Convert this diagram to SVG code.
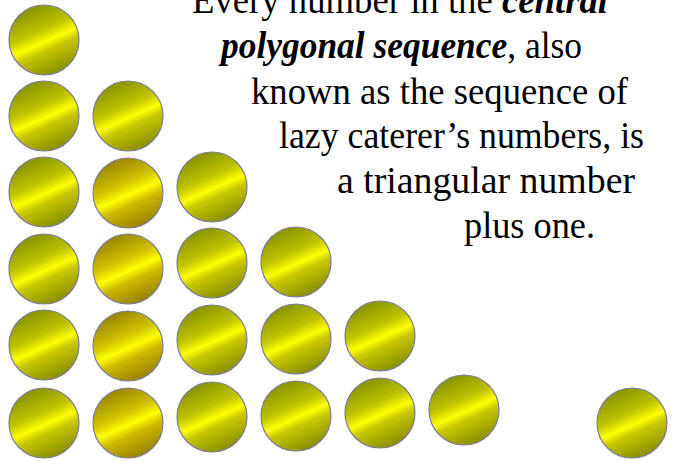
<svg xmlns="http://www.w3.org/2000/svg" width="677" height="461" viewBox="0 0 677 461">
<defs>
<linearGradient id="gOlive" x1="0.3" y1="0.05" x2="0.7" y2="0.95">
<stop offset="0" stop-color="#8a9400"/>
<stop offset="0.35" stop-color="#bfc300"/>
<stop offset="0.53" stop-color="#ffff00"/>
<stop offset="0.65" stop-color="#c8c800"/>
<stop offset="1" stop-color="#8a9000"/>
</linearGradient>
<linearGradient id="gGold" x1="0.3" y1="0.05" x2="0.7" y2="0.95">
<stop offset="0" stop-color="#9a8800"/>
<stop offset="0.35" stop-color="#d0c200"/>
<stop offset="0.53" stop-color="#ffff00"/>
<stop offset="0.68" stop-color="#cbb900"/>
<stop offset="1" stop-color="#9a8400"/>
</linearGradient>
<style>
.c{fill:url(#gOlive);stroke:#7c7c98;stroke-width:1.2}
.g{fill:url(#gGold);stroke:#7c7c98;stroke-width:1.2}
.t{font-family:'Liberation Serif','Times New Roman',serif;font-size:37px;fill:#000}
.bi{font-weight:bold;font-style:italic}
</style>
</defs>
<g id="dots">
<g id="r1"><circle class="c" cx="44" cy="40" r="35"/></g>
<g id="r2"><circle class="c" cx="44" cy="116" r="35"/><circle class="c" cx="128" cy="116" r="35"/></g>
<g id="r3"><circle class="c" cx="44" cy="192" r="35"/><circle class="g" cx="128" cy="193" r="35"/><circle class="c" cx="212" cy="187" r="35"/></g>
<g id="r4"><circle class="c" cx="44" cy="269" r="35"/><circle class="g" cx="128" cy="269" r="35"/><circle class="c" cx="212" cy="263" r="35"/><circle class="c" cx="296" cy="262" r="35"/></g>
<g id="r5"><circle class="c" cx="44" cy="345" r="35"/><circle class="g" cx="128" cy="346" r="35"/><circle class="c" cx="212" cy="340" r="35"/><circle class="c" cx="296" cy="339" r="35"/><circle class="c" cx="380" cy="336" r="35"/></g>
<g id="r6"><circle class="c" cx="44" cy="423" r="35"/><circle class="g" cx="128" cy="423" r="35"/><circle class="c" cx="212" cy="417" r="35"/><circle class="c" cx="296" cy="416" r="35"/><circle class="c" cx="380" cy="413" r="35"/><circle class="c" cx="464" cy="410" r="35"/><circle class="c" cx="632" cy="423" r="35"/></g>
</g>
<g id="caption">
<text class="t" x="192" y="13" textLength="416" lengthAdjust="spacingAndGlyphs">Every number in the <tspan class="bi">central</tspan></text>
<text class="t" x="221" y="58" textLength="361" lengthAdjust="spacingAndGlyphs"><tspan class="bi">polygonal sequence</tspan>, also</text>
<text class="t" x="251" y="104" textLength="377" lengthAdjust="spacingAndGlyphs">known as the sequence of</text>
<text class="t" x="279" y="148" textLength="365" lengthAdjust="spacingAndGlyphs">lazy caterer’s numbers, is</text>
<text class="t" x="337" y="193" textLength="298" lengthAdjust="spacingAndGlyphs">a triangular number</text>
<text class="t" x="464" y="238" textLength="131" lengthAdjust="spacingAndGlyphs">plus one.</text>
</g>
</svg>
